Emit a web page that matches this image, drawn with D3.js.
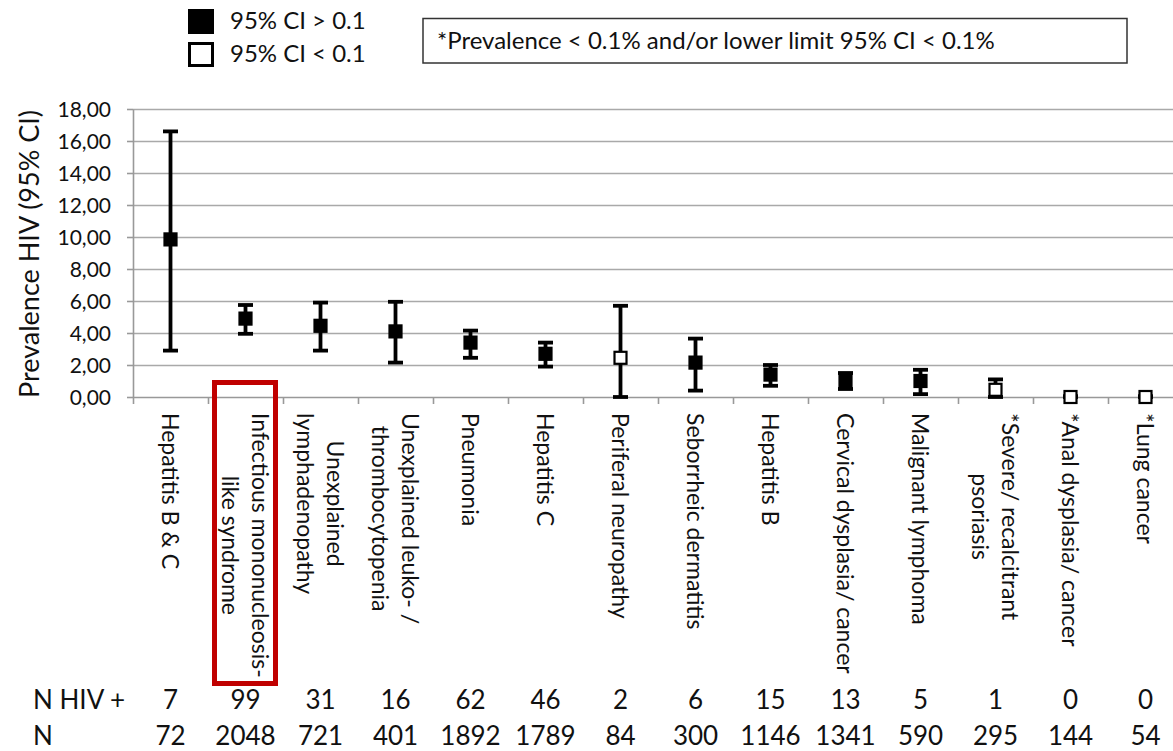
<!DOCTYPE html>
<html>
<head>
<meta charset="utf-8">
<script src="https://cdn.jsdelivr.net/npm/d3@7"></script>
<style>
  body { margin: 0; background: #fff; }
  svg { display: block; }
  text { font-family: Lato, "Open Sans", sans-serif; fill: #111; }
  .grid line { stroke: #a9a9a9; stroke-width: 1.6; }
  .grid path { display: none; }
  .axis path, .axis line { stroke: #999; stroke-width: 1.6; }
</style>
</head>
<body>
<div id="root"></div>
<script>
'use strict';

var width = 1173;
var height = 751;

// one entry per condition, label lines as printed under the axis
var labels = [
  ['Hepatitis B & C'],
  ['Infectious mononucleosis-', 'like syndrome'],
  ['Unexplained', 'lymphadenopathy'],
  ['Unexplained leuko- /', 'thrombocytopenia'],
  ['Pneumonia'],
  ['Hepatitis C'],
  ['Periferal neuropathy'],
  ['Seborrheic dermatitis'],
  ['Hepatitis B'],
  ['Cervical dysplasia/ cancer'],
  ['Malignant lymphoma'],
  ['*Severe/ recalcitrant', 'psoriasis'],
  ['*Anal dysplasia/ cancer'],
  ['*Lung cancer']
];
var prevalence = [9.85, 4.9, 4.45, 4.1, 3.4, 2.7, 2.45, 2.15, 1.4, 1.0, 1.0, 0.45, 0, 0];
var ciLow      = [2.9, 3.95, 2.9, 2.15, 2.45, 1.9, 0, 0.4, 0.7, 0.5, 0.18, 0, 0, 0];
var ciHigh     = [16.6, 5.75, 5.9, 5.95, 4.15, 3.4, 5.7, 3.65, 2.0, 1.5, 1.7, 1.1, 0.05, 0.05];
var ciAbove    = [true, true, true, true, true, true, false, true, true, true, true, false, false, false];
var nHiv  = [7, 99, 31, 16, 62, 46, 2, 6, 15, 13, 5, 1, 0, 0];
var nAll  = [72, 2048, 721, 401, 1892, 1789, 84, 300, 1146, 1341, 590, 295, 144, 54];
var yTicks = [0, 2, 4, 6, 8, 10, 12, 14, 16, 18];

var data = labels.map(function(l, i) {
  return { i: i, lines: l, value: prevalence[i], lo: ciLow[i], hi: ciHigh[i], filled: ciAbove[i], hiv: nHiv[i], n: nAll[i] };
});

var svg = d3.select('#root').append('svg')
  .attr('width', width)
  .attr('height', height);

var x = d3.scaleLinear().domain([0, labels.length]).range([133, 1183]);
var y = d3.scaleLinear().domain([0, 18]).range([397, 109]);
var cx = function(i) { return x(i + 0.5); };

var comma = d3.formatLocale({ decimal: ',', thousands: '.', grouping: [3], currency: ['', ''] }).format('.2f');

// horizontal gridlines
svg.append('g')
  .attr('class', 'grid')
  .attr('transform', 'translate(133,0)')
  .call(d3.axisLeft(y).tickValues(yTicks.slice(1)).tickSize(-(width - 133)).tickFormat(''));

// y axis
var yAxis = svg.append('g')
  .attr('class', 'axis')
  .attr('transform', 'translate(133,0)')
  .call(d3.axisLeft(y).tickValues(yTicks).tickSize(6).tickSizeOuter(0).tickPadding(16).tickFormat(comma));
yAxis.selectAll('text').style('font-size', '21px').attr('dy', '0.36em');

// x axis with ticks between categories
svg.append('g')
  .attr('class', 'axis')
  .attr('transform', 'translate(0,' + y(0) + ')')
  .call(d3.axisBottom(x).tickValues(d3.range(labels.length + 1)).tickSize(7).tickSizeOuter(0).tickFormat(''));

svg.append('text')
  .attr('transform', 'translate(39,254) rotate(-90)')
  .attr('text-anchor', 'middle')
  .style('font-size', '27px')
  .text('Prevalence HIV (95% CI)');

// error bars
var bars = svg.append('g').selectAll('g')
  .data(data)
  .enter().append('g');

bars.append('line')
  .attr('x1', d => cx(d.i)).attr('x2', d => cx(d.i))
  .attr('y1', d => y(d.lo)).attr('y2', d => y(d.hi))
  .attr('stroke', '#000').attr('stroke-width', 3.8);

['lo', 'hi'].forEach(function(k) {
  bars.append('line')
    .attr('x1', d => cx(d.i) - 7.5).attr('x2', d => cx(d.i) + 7.5)
    .attr('y1', d => y(d[k])).attr('y2', d => y(d[k]))
    .attr('stroke', '#000').attr('stroke-width', 3.8);
});

bars.append('rect')
  .attr('x', d => cx(d.i) - 6)
  .attr('y', d => y(d.value) - 6)
  .attr('width', 12).attr('height', 12)
  .attr('fill', d => d.filled ? '#000' : '#fff')
  .attr('stroke', '#000').attr('stroke-width', 2.2);

// category labels, rotated to read top to bottom
var lineH = 30;
var labelG = svg.append('g').selectAll('g')
  .data(data)
  .enter().append('g')
  .attr('transform', d => 'translate(' + cx(d.i) + ',413) rotate(90)');

labelG.each(function(d) {
  var g = d3.select(this);
  var texts = d.lines.map(function(s, j) {
    return g.append('text')
      .style('font-size', '23px')
      .attr('y', (j - (d.lines.length - 1) / 2) * lineH)
      .attr('dy', '0.35em')
      .text(s);
  });
  var maxLen = d3.max(texts, t => t.node().getComputedTextLength());
  texts.forEach(function(t) {
    t.attr('text-anchor', 'middle').attr('x', maxLen / 2);
  });
});

// highlight box
svg.append('rect')
  .attr('x', cx(1) - 31)
  .attr('y', 382.5)
  .attr('width', 61)
  .attr('height', 301)
  .attr('fill', 'none')
  .attr('stroke', '#c00000')
  .attr('stroke-width', 5);

// counts
var rows = [['N HIV +', nHiv, 709], ['N', nAll, 745]];
rows.forEach(function(r) {
  svg.append('text').attr('x', 33).attr('y', r[2]).style('font-size', '26px').text(r[0]);
  svg.append('g').selectAll('text')
    .data(r[1])
    .enter().append('text')
    .attr('x', (d, i) => cx(i))
    .attr('y', r[2])
    .attr('text-anchor', 'middle')
    .style('font-size', '26px')
    .text(d => d);
});

// legend
var legend = [['95% CI > 0.1', '#000', 10.5, 29], ['95% CI < 0.1', '#fff', 43.5, 62]];
legend.forEach(function(l) {
  svg.append('rect')
    .attr('x', 189.5).attr('y', l[2])
    .attr('width', 23).attr('height', 22)
    .attr('fill', l[1]).attr('stroke', '#000').attr('stroke-width', 3);
  svg.append('text').attr('x', 230).attr('y', l[3]).style('font-size', '24px').text(l[0]);
});

svg.append('rect')
  .attr('x', 423).attr('y', 18.5)
  .attr('width', 704).attr('height', 44.5)
  .attr('fill', '#fff').attr('stroke', '#333').attr('stroke-width', 1.5);
svg.append('text').attr('x', 437).attr('y', 49).style('font-size', '24px')
  .text('*Prevalence < 0.1% and/or lower limit 95% CI < 0.1%');
</script>
</body>
</html>
